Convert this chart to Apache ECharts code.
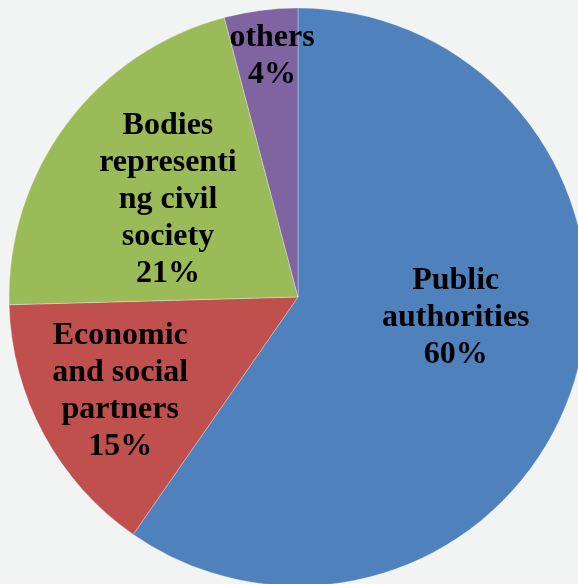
<!DOCTYPE html>
<html>
<head>
<meta charset="utf-8">
<script src="https://cdn.jsdelivr.net/npm/echarts@6/dist/echarts.min.js"></script>
<style>
html,body{margin:0;padding:0;background:#f2f4f4;}
#chart{width:578px;height:584px;}
</style>
</head>
<body>
<div id="chart"></div>
<script>
const categories = ['Public authorities', 'Economic and social partners', 'Bodies representing civil society', 'others'];
const values = [59.6, 14.9, 21.3, 4.1];
const percentLabels = ['60%', '15%', '21%', '4%'];
const labelTexts = ['Public\nauthorities', 'Economic\nand social\npartners', 'Bodies\nrepresenti\nng civil\nsociety', 'others'];
const colors = ['#4f81bd', '#c0504d', '#9bbb59', '#8064a2'];
const labelShift = [[17, -23], [-48, 24], [-12, -9], [-7, -94]];

const chart = echarts.init(document.getElementById('chart'), null, {renderer: 'canvas'});
chart.setOption({
  backgroundColor: '#f2f4f4',
  animation: false,
  series: [{
    type: 'pie',
    center: [298, 297],
    radius: [0, 289],
    startAngle: 90,
    clockwise: true,
    silent: true,
    itemStyle: {borderColor: 'rgba(255,255,255,0.5)', borderWidth: 0.6},
    label: {
      show: true,
      position: 'inside',
      fontFamily: '"Liberation Serif", "Times New Roman", serif',
      fontWeight: 'bold',
      fontSize: 32,
      lineHeight: 37,
      color: '#000',
      align: 'center',
      formatter: p => labelTexts[p.dataIndex] + '\n' + percentLabels[p.dataIndex]
    },
    labelLine: {show: false},
    labelLayout: p => ({dx: labelShift[p.dataIndex][0], dy: labelShift[p.dataIndex][1]}),
    data: categories.map((c, i) => ({name: c, value: values[i], itemStyle: {color: colors[i]}}))
  }]
});
</script>
</body>
</html>
